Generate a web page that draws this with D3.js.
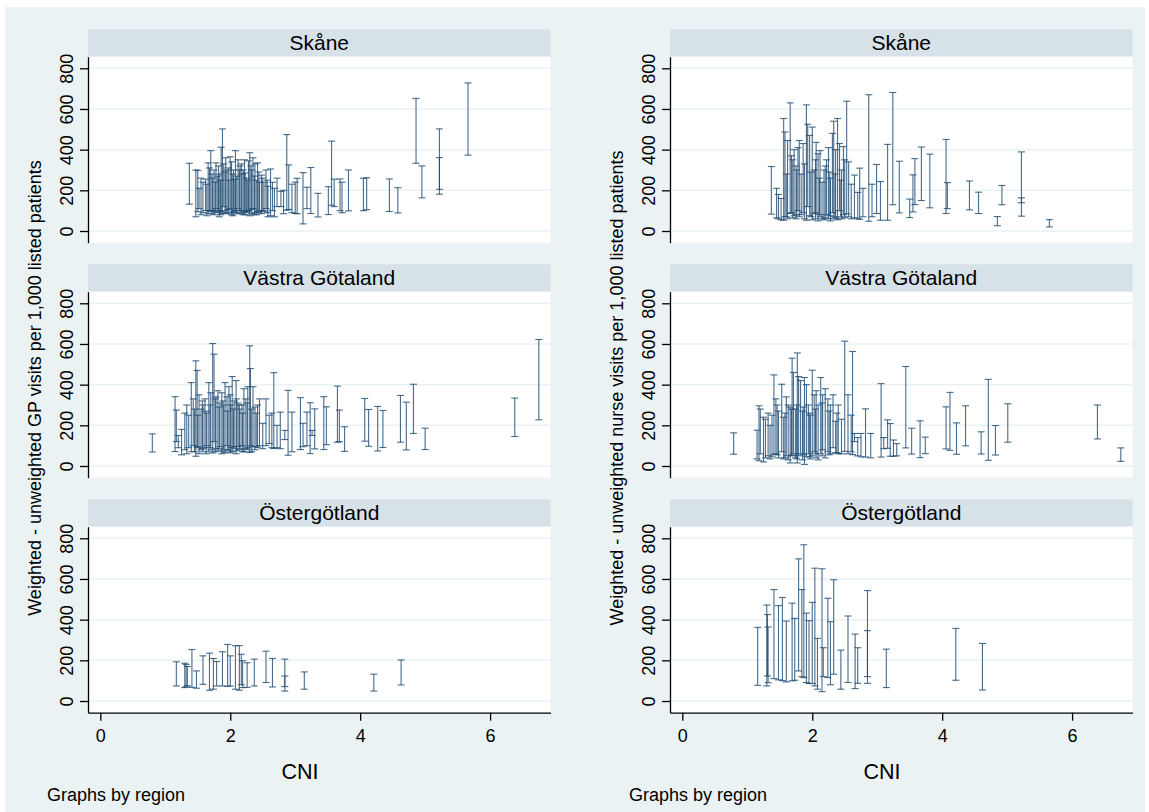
<!DOCTYPE html>
<html lang="en">
<head>
<meta charset="UTF-8">
<title>Weighted - unweighted visits by CNI</title>
<style>
  body { margin: 0; background: #ffffff; }
  svg { display: block; font-family: Arial, "Liberation Sans", sans-serif; }
</style>
</head>
<body>
<div id="chart"></div>
<script src="https://d3js.org/d3.v7.min.js"></script>
<script>
// region facets (rows) and measures (columns)
const regions = ["Skåne", "Västra Götaland", "Östergötland"];
const measures = ["GP", "nurse"];
const yTitles = [
  "Weighted - unweighted GP visits per 1,000 listed patients",
  "Weighted - unweighted nurse visits per 1,000 listed patients"
];
const xTicks = [0, 2, 4, 6];
const yTicks = [0, 200, 400, 600, 800];

// each bar: [CNI, low, high]
const gpSkane = [
  [1.37,132,333],[1.47,70,300],[1.50,95,298],[1.52,110,210],[1.55,80,260],[1.58,90,240],
  [1.62,100,255],[1.66,85,335],[1.70,95,395],[1.73,100,260],[1.75,80,300],[1.78,110,335],
  [1.80,90,270],[1.83,70,280],[1.86,95,412],[1.88,86,502],[1.90,120,330],[1.93,100,360],
  [1.95,85,300],[1.98,90,250],[2.00,110,365],[2.02,80,340],[2.05,95,300],[2.08,100,395],
  [2.10,85,270],[2.12,110,350],[2.15,90,320],[2.18,100,280],[2.20,80,300],[2.22,95,350],
  [2.25,90,260],[2.28,100,345],[2.30,75,385],[2.33,85,300],[2.35,110,360],[2.38,90,330],
  [2.40,80,250],[2.42,95,335],[2.45,100,240],[2.48,85,275],[2.52,95,240],[2.55,110,300],
  [2.58,70,220],[2.62,75,305],[2.65,100,240],[2.68,70,210],[2.72,120,260],[2.78,120,195],
  [2.82,85,200],[2.87,102,474],[2.90,106,325],[2.95,90,230],[3.00,86,240],[3.03,85,259],
  [3.12,35,287],[3.18,110,215],[3.24,86,312],[3.35,69,185],[3.51,81,218],[3.56,127,442],
  [3.60,120,255],[3.69,100,256],[3.72,90,240],[3.82,99,300],[4.05,100,259],[4.10,105,262],
  [4.45,96,256],[4.58,89,213],[4.86,333,652],[4.95,163,320],[5.22,181,502],[5.22,205,361],
  [5.66,373,728],
  [1.64,75,230],[1.68,100,310],[1.72,85,280],[1.77,95,240],[1.82,100,320],[1.85,80,250],
  [1.92,90,290],[1.97,105,310],[2.04,75,280],[2.07,90,255],[2.14,100,300],[2.17,85,330],
  [2.23,80,285],[2.27,95,250],[2.32,105,320],[2.37,80,270],[2.44,90,290],[2.50,100,260],
  [2.57,90,250]
];
const nurseSkane = [
  [1.37,83,317],[1.45,65,210],[1.48,60,180],[1.52,55,160],[1.56,53,553],[1.58,70,487],
  [1.62,60,445],[1.66,86,630],[1.68,90,370],[1.72,75,400],[1.75,60,320],[1.78,100,410],
  [1.80,70,445],[1.83,80,280],[1.86,90,430],[1.91,53,620],[1.93,120,525],[1.96,75,470],
  [2.00,55,511],[2.03,85,300],[2.06,90,436],[2.09,50,380],[2.12,70,395],[2.15,60,240],
  [2.18,55,300],[2.22,80,350],[2.25,60,410],[2.28,50,260],[2.31,90,480],[2.33,70,540],
  [2.36,65,400],[2.39,55,553],[2.42,100,430],[2.45,60,300],[2.48,80,415],[2.50,65,350],
  [2.53,85,638],[2.56,70,340],[2.60,60,230],[2.65,65,275],[2.70,60,190],[2.73,58,309],
  [2.78,70,210],[2.87,48,670],[2.92,70,230],[2.99,86,327],[3.05,53,243],[3.16,53,426],
  [3.24,129,681],[3.34,89,343],[3.50,66,157],[3.55,94,276],[3.58,130,356],[3.68,150,413],
  [3.81,114,378],[4.06,86,450],[4.08,110,238],[4.42,104,246],[4.56,86,191],[4.85,26,71],
  [4.92,129,224],[5.22,73,389],[5.22,139,163],[5.65,20,56],
  [1.60,70,280],[1.70,65,350],[1.76,80,300],[1.88,60,330],[1.98,70,290],[2.05,60,350],
  [2.11,80,260],[2.20,65,320],[2.27,75,290],[2.35,60,280],[2.44,70,250]
];
const gpVastra = [
  [0.80,69,158],[1.15,71,341],[1.17,120,275],[1.20,90,150],[1.25,55,180],[1.30,80,260],
  [1.33,60,300],[1.36,90,250],[1.40,70,410],[1.43,100,330],[1.47,48,517],[1.49,90,470],
  [1.52,60,350],[1.55,80,280],[1.58,70,300],[1.61,90,330],[1.64,100,260],[1.67,70,410],
  [1.70,80,360],[1.73,64,602],[1.75,120,550],[1.78,85,340],[1.81,75,370],[1.84,95,310],
  [1.87,60,360],[1.90,80,300],[1.92,65,410],[1.95,100,340],[1.98,75,390],[2.01,90,300],
  [2.03,70,440],[2.06,85,320],[2.09,60,420],[2.12,95,310],[2.15,80,280],[2.18,100,300],
  [2.21,70,380],[2.24,85,330],[2.27,90,390],[2.30,67,591],[2.31,100,479],[2.35,95,390],
  [2.38,80,290],[2.42,90,300],[2.45,100,330],[2.50,85,210],[2.55,100,330],[2.60,110,250],
  [2.64,90,260],[2.67,86,459],[2.72,90,200],[2.77,85,265],[2.84,130,175],[2.89,53,372],
  [2.95,70,265],[3.08,81,336],[3.12,95,210],[3.18,100,265],[3.23,61,311],[3.26,150,175],
  [3.30,84,281],[3.44,81,341],[3.48,105,291],[3.65,117,393],[3.68,120,275],[3.76,72,193],
  [4.07,122,332],[4.13,97,278],[4.27,74,293],[4.35,91,273],[4.62,117,347],[4.71,79,314],
  [4.82,160,402],[5.00,81,186],[6.38,145,334],[6.75,227,622],
  [1.45,70,280],[1.50,95,250],[1.57,85,320],[1.63,60,270],[1.69,90,300],[1.77,70,330],
  [1.83,85,290],[1.89,70,320],[1.96,80,270],[2.00,65,350],[2.05,95,280],[2.10,75,330],
  [2.14,85,300],[2.19,70,260],[2.26,80,310],[2.33,70,280],[2.40,95,260]
];
const nurseVastra = [
  [0.79,58,163],[1.15,35,176],[1.18,26,296],[1.20,60,280],[1.25,20,240],[1.28,40,230],
  [1.32,50,260],[1.35,35,200],[1.41,56,448],[1.44,60,330],[1.48,40,270],[1.53,70,402],
  [1.56,35,240],[1.60,50,340],[1.63,30,300],[1.66,15,290],[1.69,53,530],[1.71,60,460],
  [1.74,40,280],[1.77,15,556],[1.79,50,440],[1.82,60,420],[1.85,30,270],[1.88,8,435],
  [1.91,45,400],[1.94,60,300],[1.97,35,250],[2.00,50,471],[2.03,70,350],[2.06,40,370],
  [2.09,30,300],[2.13,60,435],[2.16,80,350],[2.20,40,380],[2.24,70,330],[2.28,60,300],
  [2.32,90,350],[2.36,65,220],[2.40,60,300],[2.45,60,230],[2.50,72,614],[2.55,60,350],
  [2.60,70,250],[2.62,56,563],[2.65,120,160],[2.70,50,140],[2.75,45,160],[2.82,44,281],
  [2.90,40,160],[3.06,44,405],[3.10,85,140],[3.16,87,227],[3.20,48,209],[3.25,48,128],
  [3.30,50,110],[3.44,89,489],[3.53,59,186],[3.66,41,222],[3.74,61,142],[4.06,84,291],
  [4.12,77,362],[4.22,58,212],[4.36,99,296],[4.60,59,168],[4.71,28,426],[4.82,54,199],
  [5.01,117,306],[6.39,133,300],[6.75,23,89],
  [1.38,45,250],[1.46,55,300],[1.58,40,260],[1.68,50,280],[1.76,35,300],[1.86,55,290],
  [1.96,45,260],[2.05,60,280],[2.15,50,310],[2.26,55,270],[2.38,65,260]
];
const gpOster = [
  [1.17,74,193],[1.30,66,186],[1.32,70,180],[1.34,75,170],[1.41,67,253],[1.48,63,148],
  [1.58,82,222],[1.68,53,235],[1.74,58,209],[1.79,74,194],[1.88,74,242],[1.96,72,278],
  [2.00,74,222],[2.08,58,272],[2.14,53,272],[2.17,80,230],[2.19,66,198],[2.26,67,188],
  [2.37,74,206],[2.55,91,245],[2.65,69,209],[2.84,49,206],[2.84,71,123],[3.14,58,143],
  [4.21,49,132],[4.63,79,202]
];
const nurseOster = [
  [1.16,77,362],[1.30,74,472],[1.31,123,425],[1.32,90,364],[1.41,110,548],[1.48,104,469],
  [1.54,100,509],[1.60,94,393],[1.69,99,481],[1.73,102,406],[1.79,148,699],[1.84,120,548],
  [1.87,115,768],[1.91,91,432],[1.95,86,395],[2.00,86,485],[2.04,74,653],[2.08,58,308],
  [2.15,46,650],[2.17,120,262],[2.24,115,505],[2.28,80,390],[2.33,132,596],[2.44,58,250],
  [2.55,91,418],[2.66,61,329],[2.70,87,262],[2.85,87,543],[2.85,120,346],[3.14,66,255],
  [4.21,102,357],[4.62,54,283]
];

const panelData = [
  [gpSkane, gpVastra, gpOster],
  [nurseSkane, nurseVastra, nurseOster]
];

const W = 1149, H = 812;
const colX = [88, 670];      // left edge of plot area per column
const plotW = 462.5;
const rowTop = [29.3, 264.3, 499.3]; // top of strip per row
const stripH = 27.4;
const plotH = 186;
const barColor = "#1a476f";

const svg = d3.select("#chart").append("svg")
  .attr("width", W)
  .attr("height", H);

svg.append("rect")
  .attr("x", 5).attr("y", 7)
  .attr("width", 1140).attr("height", H - 7)
  .attr("fill", "#eaf2f3");

const x = d3.scaleLinear().domain([-0.19, 6.93]).range([0, plotW]);
const y = d3.scaleLinear().domain([-57.5, 857]).range([plotH, 0]);

measures.forEach((m, c) => {
  const col = svg.append("g").attr("transform", `translate(${colX[c]},0)`);

  regions.forEach((reg, r) => {
    const g = col.append("g").attr("transform", `translate(0,${rowTop[r]})`);

    // strip
    g.append("rect")
      .attr("width", plotW).attr("height", stripH)
      .attr("fill", "#d6e1e8");
    g.append("text")
      .attr("x", plotW / 2).attr("y", stripH / 2 + 7.5)
      .attr("text-anchor", "middle")
      .attr("font-size", 21)
      .text(reg);

    const p = g.append("g").attr("transform", `translate(0,${stripH})`);
    p.append("rect")
      .attr("width", plotW).attr("height", plotH)
      .attr("fill", "#ffffff");

    // grid
    p.selectAll("line.grid").data(yTicks).join("line")
      .attr("class", "grid")
      .attr("x1", 0).attr("x2", plotW)
      .attr("y1", d => y(d)).attr("y2", d => y(d))
      .attr("stroke", "#eaf2f3").attr("stroke-width", 1.5);

    // range bars with caps
    const bars = p.selectAll("g.bar").data(panelData[c][r]).join("g").attr("class", "bar")
      .attr("stroke", barColor).attr("stroke-opacity", 0.8).attr("stroke-width", 1.1);
    bars.append("line")
      .attr("x1", d => x(d[0])).attr("x2", d => x(d[0]))
      .attr("y1", d => y(d[1])).attr("y2", d => y(d[2]));
    bars.append("line")
      .attr("x1", d => x(d[0]) - 3.5).attr("x2", d => x(d[0]) + 3.5)
      .attr("y1", d => y(d[1])).attr("y2", d => y(d[1]));
    bars.append("line")
      .attr("x1", d => x(d[0]) - 3.5).attr("x2", d => x(d[0]) + 3.5)
      .attr("y1", d => y(d[2])).attr("y2", d => y(d[2]));

    // y axis
    const ya = p.append("g")
      .call(d3.axisLeft(y).tickValues(yTicks).tickSize(8).tickSizeOuter(0));
    ya.select(".domain").attr("stroke", "#000").attr("stroke-width", 1.3);
    ya.selectAll(".tick line").attr("stroke", "#000").attr("stroke-width", 1.3);
    ya.selectAll(".tick text")
      .attr("x", 0).attr("dy", 0)
      .attr("text-anchor", "middle")
      .attr("transform", "translate(-15.5,0) rotate(-90)")
      .attr("font-size", 18)
      .attr("font-family", null)
      .attr("fill", "#000");

    // x axis only on bottom row
    if (r === regions.length - 1) {
      const xa = p.append("g")
        .attr("transform", `translate(0,${plotH})`)
        .call(d3.axisBottom(x).tickValues(xTicks).tickSize(8).tickSizeOuter(0).tickPadding(9));
      xa.select(".domain").attr("stroke", "#000").attr("stroke-width", 1.3);
      xa.selectAll(".tick line").attr("stroke", "#000").attr("stroke-width", 1.3);
      xa.selectAll(".tick text")
        .attr("font-size", 18)
        .attr("font-family", null)
        .attr("fill", "#000");
    }
  });

  // axis titles and note
  col.append("text")
    .attr("transform", `translate(${-54 + 6.5},388) rotate(-90)`)
    .attr("text-anchor", "middle")
    .attr("font-size", 18)
    .text(yTitles[c]);
  col.append("text")
    .attr("x", 212).attr("y", 779)
    .attr("text-anchor", "middle")
    .attr("font-size", 21.5)
    .text("CNI");
  col.append("text")
    .attr("x", -41).attr("y", 801)
    .attr("font-size", 18)
    .text("Graphs by region");
});
</script>
</body>
</html>
